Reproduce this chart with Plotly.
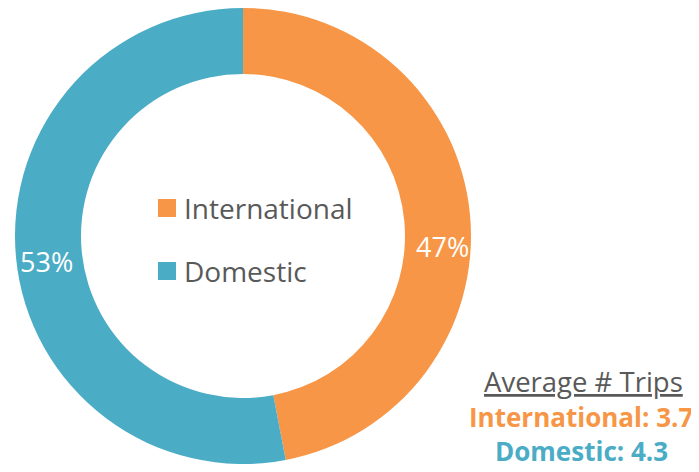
import plotly.graph_objects as go

W, H = 699, 472
OFF = 8  # page body margin offset compensation

categories = ["International", "Domestic"]
shares = [47, 53]
colors = ["#F79646", "#4BACC6"]
avg_trips = [3.7, 4.3]
summary_title = "Average # Trips"

GRAY = "#595959"
FONT = "Open Sans"


def px(x):
    return (x - OFF) / W


def py(y):
    return 1 - (y - OFF) / H


# pie centre at (243, 236) in the page; radius limited by the top edge
CX, CY, R = 243, 236, 228
fig = go.Figure()
fig.add_trace(go.Pie(
    labels=categories,
    values=shares,
    hole=162 / R,
    sort=False,
    direction="clockwise",
    rotation=0,
    marker=dict(colors=colors, line=dict(width=0)),
    textinfo="none",
    hoverinfo="label+percent",
    showlegend=False,
    domain=dict(x=[px(CX - R), px(CX + R)], y=[py(CY + R), min(1, py(CY - R))]),
))

annotations = []
shapes = []

# percentage labels on the ring
pct_pos = [(442, 246), (46, 261)]
for v, (ax, ay) in zip(shares, pct_pos):
    annotations.append(dict(
        x=px(ax), y=py(ay), xref="paper", yref="paper",
        text=f"{v}%", showarrow=False, xanchor="center", yanchor="middle",
        font=dict(family=FONT, size=27, color="white"),
    ))

# legend in the hole
legend_y = [208, 271]
for cat, col, ly in zip(categories, colors, legend_y):
    shapes.append(dict(
        type="rect", xref="paper", yref="paper",
        x0=px(158), x1=px(176), y0=py(ly + 9), y1=py(ly - 9),
        fillcolor=col, line=dict(width=0),
    ))
    annotations.append(dict(
        x=px(182), y=py(ly), xref="paper", yref="paper",
        text=cat, showarrow=False, xanchor="left", yanchor="middle",
        font=dict(family=FONT, size=28, color=GRAY),
    ))

# summary text bottom right
annotations.append(dict(
    x=px(583), y=py(381), xref="paper", yref="paper",
    text=f"<u>{summary_title}</u>", showarrow=False, xanchor="center", yanchor="middle",
    font=dict(family=FONT, size=27.5, color=GRAY),
))
for cat, col, val, sy in zip(categories, colors, avg_trips, [417, 451]):
    annotations.append(dict(
        x=px(581), y=py(sy), xref="paper", yref="paper",
        text=f"<b>{cat}: {val}</b>", showarrow=False, xanchor="center", yanchor="middle",
        font=dict(family=FONT, size=26, color=col),
    ))

fig.update_layout(
    width=W, height=H,
    margin=dict(l=0, r=0, t=0, b=0),
    paper_bgcolor="white", plot_bgcolor="white",
    annotations=annotations, shapes=shapes,
)

fig.write_html("out.html")
